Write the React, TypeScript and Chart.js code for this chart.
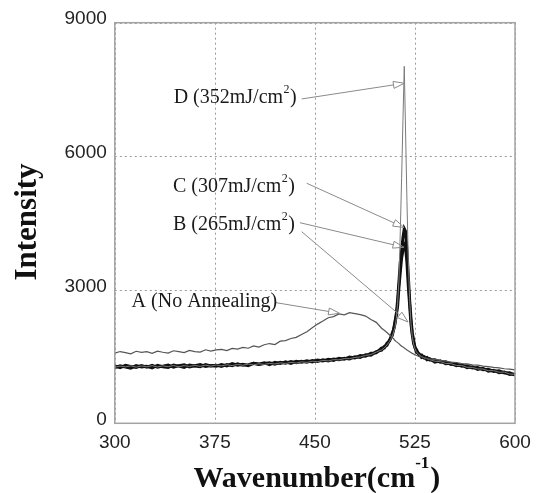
import React, { useEffect, useRef } from 'react';
import { Chart, registerables } from 'chart.js';

Chart.register(...registerables);

// Raman shift grid (cm^-1) shared by all spectra
const wavenumbers = [
  300, 304, 308, 312, 316, 320, 324, 328, 332, 336, 340, 344, 348, 352, 356, 360, 364, 368, 372, 376,
  380, 384, 388, 392, 396, 400, 404, 408, 412, 416, 420, 424, 428, 432, 436, 440, 444, 448, 452, 456,
  460, 464, 468, 472, 476, 480, 484, 488, 492, 496,
  500, 502, 504, 506, 508, 509, 510, 511, 512, 513, 514, 515, 516, 517, 518, 519, 520, 521, 522, 523,
  524, 525, 526, 528, 530, 532, 534, 536,
  540, 544, 548, 552, 556, 560, 564, 568, 572, 576, 580, 584, 588, 592, 596, 600,
];

// A (No Annealing)
const intensityA = [
  1575, 1612, 1588, 1560, 1618, 1594, 1608, 1570, 1622, 1596, 1578, 1630, 1612, 1588, 1638, 1610, 1598, 1652, 1622, 1648,
  1662, 1632, 1684, 1668, 1705, 1686, 1738, 1712, 1765, 1792, 1770, 1845, 1858, 1906, 1930, 1995, 2058, 2145, 2228, 2296,
  2372, 2398, 2458, 2436, 2484, 2462, 2440, 2408, 2332, 2268,
  2135, 2090, 2040, 1985, 1930, 1900, 1860, 1835, 1812, 1790, 1758, 1730, 1716, 1690, 1672, 1648, 1628, 1610, 1590, 1570,
  1556, 1538, 1530, 1500, 1492, 1468, 1462, 1440,
  1436, 1412, 1398, 1376, 1366, 1344, 1336, 1312, 1306, 1286, 1272, 1256, 1246, 1226, 1218, 1198,
];

// B (265 mJ/cm2)
const intensityB = [
  1250, 1292, 1262, 1240, 1298, 1268, 1282, 1245, 1300, 1272, 1255, 1306, 1285, 1258, 1310, 1288, 1270, 1318, 1290, 1306,
  1275, 1322, 1296, 1335, 1302, 1318, 1350, 1320, 1345, 1362, 1330, 1372, 1352, 1385, 1360, 1392, 1370, 1412, 1392, 1428,
  1400, 1446, 1428, 1462, 1445, 1496, 1478, 1540, 1532, 1610,
  1640, 1725, 1750, 1870, 1975, 2110, 2225, 2440, 2630, 3060, 3390, 3710, 3890, 4010, 3940, 3610, 3090, 2660, 2240, 1990,
  1790, 1710, 1600, 1565, 1480, 1495, 1430, 1450,
  1372, 1402, 1338, 1348, 1292, 1315, 1250, 1270, 1212, 1236, 1172, 1192, 1138, 1152, 1095, 1108,
];

// C (307 mJ/cm2)
const intensityC = [
  1288, 1252, 1302, 1278, 1255, 1296, 1262, 1300, 1258, 1285, 1306, 1262, 1296, 1312, 1268, 1292, 1318, 1276, 1300, 1285,
  1322, 1290, 1340, 1306, 1328, 1295, 1348, 1330, 1358, 1318, 1370, 1342, 1380, 1345, 1392, 1372, 1405, 1380, 1420, 1398,
  1440, 1415, 1462, 1440, 1486, 1468, 1520, 1505, 1575, 1582,
  1690, 1690, 1800, 1850, 2030, 2100, 2280, 2430, 2770, 3180, 3620, 3880, 4170, 4370, 4310, 3880, 3320, 2780, 2370, 2030,
  1870, 1700, 1660, 1540, 1535, 1465, 1480, 1420,
  1425, 1372, 1380, 1322, 1335, 1282, 1294, 1242, 1255, 1202, 1214, 1166, 1178, 1130, 1136, 1085,
];

// D (352 mJ/cm2)
const intensityD = [
  1262, 1285, 1268, 1290, 1262, 1288, 1270, 1295, 1266, 1290, 1272, 1298, 1270, 1296, 1278, 1302, 1280, 1306, 1284, 1310,
  1290, 1315, 1296, 1322, 1304, 1330, 1312, 1338, 1322, 1346, 1332, 1356, 1342, 1368, 1352, 1380, 1368, 1394, 1384, 1412,
  1402, 1430, 1425, 1452, 1452, 1480, 1490, 1525, 1545, 1600,
  1650, 1695, 1760, 1840, 1950, 2050, 2150, 2350, 2700, 3200, 4300, 5500, 6800, 8020, 6500, 5000, 3700, 2800, 2250, 1950,
  1780, 1680, 1610, 1540, 1500, 1468, 1450, 1430,
  1395, 1385, 1345, 1340, 1300, 1300, 1258, 1256, 1222, 1220, 1182, 1185, 1148, 1150, 1108, 1102,
];

const xTickValues = [300, 375, 450, 525, 600];
const yTickValues = [0, 3000, 6000, 9000];

// Annotation labels (data coordinates: wavenumber, intensity)
const labelTexts = ['D (352mJ/cm', 'C (307mJ/cm', 'B (265mJ/cm', 'A (No Annealing)'];
const labelSups = ['2', '2', '2', ''];
const labelTails = [')', ')', ')', ''];
const labelX = [344.1, 343.6, 343.6, 312.6];
const labelY = [7303, 5316, 4456, 2732];

// Annotation arrows (data coordinates)
const arrowFromX = [440.1, 443.9, 438.8, 440.1, 420.1];
const arrowFromY = [7287, 5393, 4507, 4305, 2714];
const arrowToX = [517.1, 516.8, 516.8, 519.8, 468.5];
const arrowToY = [7640, 4400, 3955, 2276, 2472];

const xTitleMain = 'Wavenumber(cm';
const xTitleSup = '-1';
const xTitleTail = ')';
const yTitle = 'Intensity';

const SERIF = '"Liberation Serif", "Times New Roman", serif';
const SANS = '"Liberation Sans", Arial, sans-serif';

const toPoints = (ys: number[]) => wavenumbers.map((x, i) => ({ x, y: ys[i] }));

const overlayPlugin = {
  id: 'overlay',
  beforeDatasetsDraw(chart: any) {
    const ctx: CanvasRenderingContext2D = chart.ctx;
    const { left, right, top, bottom } = chart.chartArea;
    const xs = chart.scales.x;
    const ys = chart.scales.y;
    ctx.save();
    ctx.strokeStyle = '#9a9a9a';
    ctx.lineWidth = 1;
    ctx.setLineDash([2, 3]);
    xTickValues.forEach((v) => {
      const px = Math.round(xs.getPixelForValue(v)) + 0.5;
      ctx.beginPath();
      ctx.moveTo(px, top);
      ctx.lineTo(px, bottom);
      ctx.stroke();
    });
    yTickValues.forEach((v) => {
      const py = Math.round(ys.getPixelForValue(v)) + 0.5;
      ctx.beginPath();
      ctx.moveTo(left, py);
      ctx.lineTo(right, py);
      ctx.stroke();
    });
    ctx.restore();
  },
  afterDraw(chart: any) {
    const ctx: CanvasRenderingContext2D = chart.ctx;
    const { left, right, top, bottom } = chart.chartArea;
    const xs = chart.scales.x;
    const ys = chart.scales.y;
    ctx.save();

    // frame
    ctx.strokeStyle = '#a3a3a3';
    ctx.lineWidth = 1.5;
    ctx.setLineDash([]);
    ctx.strokeRect(left, top, right - left, bottom - top);

    // arrows
    ctx.strokeStyle = '#8a8a8a';
    ctx.lineWidth = 1;
    for (let i = 0; i < arrowFromX.length; i++) {
      const fx = xs.getPixelForValue(arrowFromX[i]);
      const fy = ys.getPixelForValue(arrowFromY[i]);
      const tx = xs.getPixelForValue(arrowToX[i]);
      const ty = ys.getPixelForValue(arrowToY[i]);
      const ang = Math.atan2(ty - fy, tx - fx);
      const len = 11;
      const hw = 3.5;
      const bx = tx - len * Math.cos(ang);
      const by = ty - len * Math.sin(ang);
      ctx.beginPath();
      ctx.moveTo(fx, fy);
      ctx.lineTo(bx, by);
      ctx.stroke();
      ctx.beginPath();
      ctx.moveTo(tx, ty);
      ctx.lineTo(bx + hw * Math.sin(ang), by - hw * Math.cos(ang));
      ctx.lineTo(bx - hw * Math.sin(ang), by + hw * Math.cos(ang));
      ctx.closePath();
      ctx.stroke();
    }

    // labels
    ctx.fillStyle = '#1a1a1a';
    ctx.textAlign = 'left';
    ctx.textBaseline = 'middle';
    for (let i = 0; i < labelTexts.length; i++) {
      let x = xs.getPixelForValue(labelX[i]);
      const y = ys.getPixelForValue(labelY[i]);
      ctx.font = `20px ${SERIF}`;
      ctx.fillText(labelTexts[i], x, y);
      x += ctx.measureText(labelTexts[i]).width;
      if (labelSups[i]) {
        ctx.font = `12px ${SERIF}`;
        ctx.fillText(labelSups[i], x + 0.5, y - 8);
        x += ctx.measureText(labelSups[i]).width + 1;
      }
      if (labelTails[i]) {
        ctx.font = `20px ${SERIF}`;
        ctx.fillText(labelTails[i], x, y);
      }
    }

    // x title with superscript
    ctx.fillStyle = '#111';
    ctx.textBaseline = 'alphabetic';
    const mainFont = `bold 30px ${SERIF}`;
    const supFont = `bold 17px ${SERIF}`;
    ctx.font = mainFont;
    const w1 = ctx.measureText(xTitleMain).width;
    const w3 = ctx.measureText(xTitleTail).width;
    ctx.font = supFont;
    const w2 = ctx.measureText(xTitleSup).width;
    const total = w1 + w2 + w3 + 1;
    let tx0 = (left + right) / 2 - total / 2 + 2;
    const baseY = 487;
    ctx.font = mainFont;
    ctx.fillText(xTitleMain, tx0, baseY);
    tx0 += w1;
    ctx.font = supFont;
    ctx.fillText(xTitleSup, tx0, baseY - 19);
    tx0 += w2 + 1;
    ctx.font = mainFont;
    ctx.fillText(xTitleTail, tx0, baseY);

    // y title
    ctx.save();
    ctx.translate(27.5, (top + bottom) / 2 - 1);
    ctx.rotate(-Math.PI / 2);
    ctx.font = `bold 31px ${SERIF}`;
    ctx.textAlign = 'center';
    ctx.textBaseline = 'middle';
    ctx.fillText(yTitle, 0, 0);
    ctx.restore();

    ctx.restore();
  },
};

export default function App() {
  const ref = useRef<HTMLCanvasElement | null>(null);

  useEffect(() => {
    if (!ref.current) return;
    const chart = new Chart(ref.current, {
      type: 'line',
      data: {
        datasets: [
          {
            label: 'A (No Annealing)',
            data: toPoints(intensityA),
            borderColor: '#555555',
            borderWidth: 1.2,
            pointRadius: 0,
            tension: 0,
          },
          {
            label: 'D (352mJ/cm2)',
            data: toPoints(intensityD),
            borderColor: '#7a7a7a',
            borderWidth: 1,
            pointRadius: 0,
            tension: 0,
          },
          {
            label: 'B (265mJ/cm2)',
            data: toPoints(intensityB),
            borderColor: '#111111',
            borderWidth: 3,
            pointRadius: 0,
            tension: 0,
          },
          {
            label: 'C (307mJ/cm2)',
            data: toPoints(intensityC),
            borderColor: '#111111',
            borderWidth: 3,
            pointRadius: 0,
            tension: 0,
          },
        ],
      },
      options: {
        responsive: false,
        animation: false,
        events: [],
        layout: { padding: { top: 22.7, right: 27, left: 0, bottom: 0 } },
        plugins: {
          legend: { display: false },
          tooltip: { enabled: false },
        },
        scales: {
          x: {
            type: 'linear',
            min: 300,
            max: 600,
            afterBuildTicks: (s: any) => {
              s.ticks = xTickValues.map((v) => ({ value: v }));
            },
            afterFit: (s: any) => {
              s.height = 69.7;
            },
            ticks: {
              color: '#222',
              font: { family: SANS, size: 19 },
              padding: 8,
              maxRotation: 0,
              autoSkip: false,
              callback: (v: any) => String(v),
            },
            grid: { display: false, drawTicks: false },
            border: { display: false },
          },
          y: {
            type: 'linear',
            min: 0,
            max: 9000,
            afterBuildTicks: (s: any) => {
              s.ticks = yTickValues.map((v) => ({ value: v }));
            },
            afterFit: (s: any) => {
              s.width = 114.8;
            },
            ticks: {
              color: '#222',
              font: { family: SANS, size: 19 },
              padding: 8,
              labelOffset: -3.5,
              autoSkip: false,
              callback: (v: any) => String(v),
            },
            grid: { display: false, drawTicks: false },
            border: { display: false },
          },
        },
      },
      plugins: [overlayPlugin],
    });
    return () => chart.destroy();
  }, []);

  return (
    <div style={{ position: 'fixed', left: 0, top: 0, width: 542, height: 493, background: '#fff' }}>
      <canvas ref={ref} width={542} height={493} />
    </div>
  );
}
